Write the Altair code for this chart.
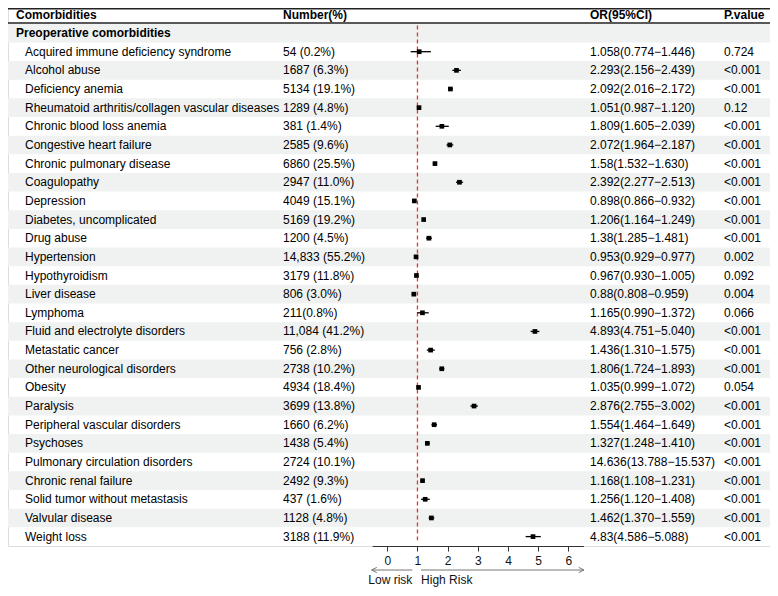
import altair as alt
import pandas as pd

# ---------------- data ----------------
names = [
    "Acquired immune deficiency syndrome", "Alcohol abuse", "Deficiency anemia",
    "Rheumatoid arthritis/collagen vascular diseases", "Chronic blood loss anemia",
    "Congestive heart failure", "Chronic pulmonary disease", "Coagulopathy",
    "Depression", "Diabetes, uncomplicated", "Drug abuse", "Hypertension",
    "Hypothyroidism", "Liver disease", "Lymphoma", "Fluid and electrolyte disorders",
    "Metastatic cancer", "Other neurological disorders", "Obesity", "Paralysis",
    "Peripheral vascular disorders", "Psychoses", "Pulmonary circulation disorders",
    "Chronic renal failure", "Solid tumor without metastasis", "Valvular disease",
    "Weight loss",
]
numbers = [
    "54 (0.2%)", "1687 (6.3%)", "5134 (19.1%)", "1289 (4.8%)", "381 (1.4%)",
    "2585 (9.6%)", "6860 (25.5%)", "2947 (11.0%)", "4049 (15.1%)", "5169 (19.2%)",
    "1200 (4.5%)", "14,833 (55.2%)", "3179 (11.8%)", "806 (3.0%)", "211(0.8%)",
    "11,084 (41.2%)", "756 (2.8%)", "2738 (10.2%)", "4934 (18.4%)", "3699 (13.8%)",
    "1660 (6.2%)", "1438 (5.4%)", "2724 (10.1%)", "2492 (9.3%)", "437 (1.6%)",
    "1128 (4.8%)", "3188 (11.9%)",
]
or_vals = [1.058, 2.293, 2.092, 1.051, 1.809, 2.072, 1.58, 2.392, 0.898, 1.206,
           1.38, 0.953, 0.967, 0.88, 1.165, 4.893, 1.436, 1.806, 1.035, 2.876,
           1.554, 1.327, 14.636, 1.168, 1.256, 1.462, 4.83]
lo_vals = [0.774, 2.156, 2.016, 0.987, 1.605, 1.964, 1.532, 2.277, 0.866, 1.164,
           1.285, 0.929, 0.930, 0.808, 0.990, 4.751, 1.310, 1.724, 0.999, 2.755,
           1.464, 1.248, 13.788, 1.108, 1.120, 1.370, 4.586]
hi_vals = [1.446, 2.439, 2.172, 1.120, 2.039, 2.187, 1.630, 2.513, 0.932, 1.249,
           1.481, 0.977, 1.005, 0.959, 1.372, 5.040, 1.575, 1.893, 1.072, 3.002,
           1.649, 1.410, 15.537, 1.231, 1.408, 1.559, 5.088]
p_vals = ["0.724", "<0.001", "<0.001", "0.12", "<0.001", "<0.001", "<0.001",
          "<0.001", "<0.001", "<0.001", "<0.001", "0.002", "0.092", "0.004",
          "0.066", "<0.001", "<0.001", "<0.001", "0.054", "<0.001", "<0.001",
          "<0.001", "<0.001", "<0.001", "<0.001", "<0.001", "<0.001"]
tick_values = [0, 1, 2, 3, 4, 5, 6]
group_label = "Preoperative comorbidities"
headers = ["Comorbidities", "Number(%)", "OR(95%CI)", "P.value"]
risk_labels = ["Low risk", "High Risk"]

# ---------------- layout / style ----------------
FONT = "Liberation Sans"
W, H = 762, 538
FS = 12
X_NAME, X_GROUP, X_NUM, X_OR, X_P = 17, 8, 275, 582, 716
HEADER_X = [X_GROUP, X_NUM, X_OR, X_P]
Y_ARROW, Y_RISK = 562, 572
RED = "#f23030"

or_text = [f"{o}({l:.3f}\u2212{h:.3f})" for o, l, h in zip(or_vals, lo_vals, hi_vals)]
df = pd.DataFrame({
    "row": list(range(1, len(names) + 1)),
    "name": names, "number": numbers, "or": or_vals,
    "lo": lo_vals, "hi": hi_vals, "ortext": or_text, "p": p_vals,
})
band_rows = list(range(0, len(names) + 1, 2))
bands = pd.DataFrame({"y0": [r - 0.5 for r in band_rows], "y1": [r + 0.5 for r in band_rows]})
one = pd.DataFrame({"k": [0]})

yscale = alt.Scale(domain=[0, 27], range=[25.05, 528.6], nice=False, zero=False)
xscale = alt.Scale(domain=[-0.5, 6.5], range=[364.2, 575.4], nice=False, zero=False)
xaxis = alt.Axis(values=tick_values, title=None, grid=False, tickSize=5,
                 labelPadding=4, labelFontSize=12, labelFont=FONT,
                 domainColor="#333333", tickColor="#333333", labelColor="#111111",
                 labelFlush=False, labelOverlap=False, domainWidth=1, tickWidth=1)

def Y(field):
    return alt.Y(field, scale=yscale, axis=None)

def X(field):
    return alt.X(field, scale=xscale, axis=xaxis)

bands_layer = alt.Chart(bands).mark_rect(color="#eff2f1").encode(
    x=alt.value(0), x2=alt.value(W), y=Y("y0:Q"), y2="y1:Q")

top_line = alt.Chart(one).mark_rule(color="#222222", strokeWidth=1.5).encode(
    x=alt.value(0), x2=alt.value(W), y=alt.value(0.75))
head_line = alt.Chart(one).mark_rule(color="#222222", strokeWidth=1.6).encode(
    x=alt.value(0), x2=alt.value(W), y=alt.value(15))

header_layers = [
    alt.Chart(one).mark_text(text=h, align="left", baseline="middle", fontSize=FS,
                             fontWeight="bold", font=FONT, color="#000000").encode(
        x=alt.value(hx), y=alt.value(7))
    for h, hx in zip(headers, HEADER_X)
]
group_layer = alt.Chart(one).mark_text(text=group_label, align="left", baseline="middle",
                                       fontSize=FS, fontWeight="bold", font=FONT,
                                       color="#000000").encode(
    x=alt.value(X_GROUP), y=Y("k:Q"))

def text_col(field, xpx):
    return alt.Chart(df).mark_text(align="left", baseline="middle", fontSize=FS,
                                   font=FONT, color="#000000").encode(
        x=alt.value(xpx), y=Y("row:Q"), text=f"{field}:N")

ref_df = pd.DataFrame({"ref": [1], "ya": [-0.4], "yb": [27.2]})
ref_line = alt.Chart(ref_df).mark_rule(
    color=RED, stroke=RED, strokeDash=[4, 3], strokeWidth=1.3, opacity=1).encode(
    x=X("ref:Q"), y=Y("ya:Q"), y2="yb:Q")

ci_layer = alt.Chart(df).transform_filter("datum.or <= 6.5").mark_rule(
    color="#000000", strokeWidth=1.3).encode(x=X("lo:Q"), x2="hi:Q", y=Y("row:Q"))
pt_layer = alt.Chart(df).transform_filter("datum.or <= 6.5").mark_square(
    size=22, color="#000000", opacity=1).encode(x=X("or:Q"), y=Y("row:Q"))

arrows = pd.DataFrame({"a": [0.83, 1.12], "b": [-0.52, 6.52]})
arrow_lines = alt.Chart(arrows).mark_rule(color="#777777", strokeWidth=1).encode(
    x=X("a:Q"), x2="b:Q", y=alt.value(Y_ARROW))
left_head = alt.Chart(pd.DataFrame({"x": [-0.52]})).mark_point(
    shape="M2.6,-1.3L0,0L2.6,1.3", size=16, filled=False, color="#777777",
    strokeWidth=1, opacity=1).encode(x=X("x:Q"), y=alt.value(Y_ARROW))
right_head = alt.Chart(pd.DataFrame({"x": [6.52]})).mark_point(
    shape="M-2.6,-1.3L0,0L-2.6,1.3", size=16, filled=False, color="#777777",
    strokeWidth=1, opacity=1).encode(x=X("x:Q"), y=alt.value(Y_ARROW))
low_txt = alt.Chart(pd.DataFrame({"x": [0.83]})).mark_text(
    text=risk_labels[0], align="right", baseline="middle", fontSize=FS, font=FONT,
    color="#111111").encode(x=X("x:Q"), y=alt.value(Y_RISK))
high_txt = alt.Chart(pd.DataFrame({"x": [1.12]})).mark_text(
    text=risk_labels[1], align="left", baseline="middle", fontSize=FS, font=FONT,
    color="#111111").encode(x=X("x:Q"), y=alt.value(Y_RISK))

chart = alt.layer(
    bands_layer, top_line, head_line, *header_layers, group_layer,
    text_col("name", X_NAME), text_col("number", X_NUM),
    text_col("ortext", X_OR), text_col("p", X_P),
    ref_line, ci_layer, pt_layer,
    arrow_lines, left_head, right_head, low_txt, high_txt,
).properties(
    width=W, height=H,
    autosize=alt.AutoSizeParams(type="none"),
    padding={"left": 0, "top": 0, "right": 0, "bottom": 42},
    background="white",
).configure_view(stroke=None).configure(font=FONT)

chart.save("out.html", embed_options={"renderer": "svg", "actions": False})
